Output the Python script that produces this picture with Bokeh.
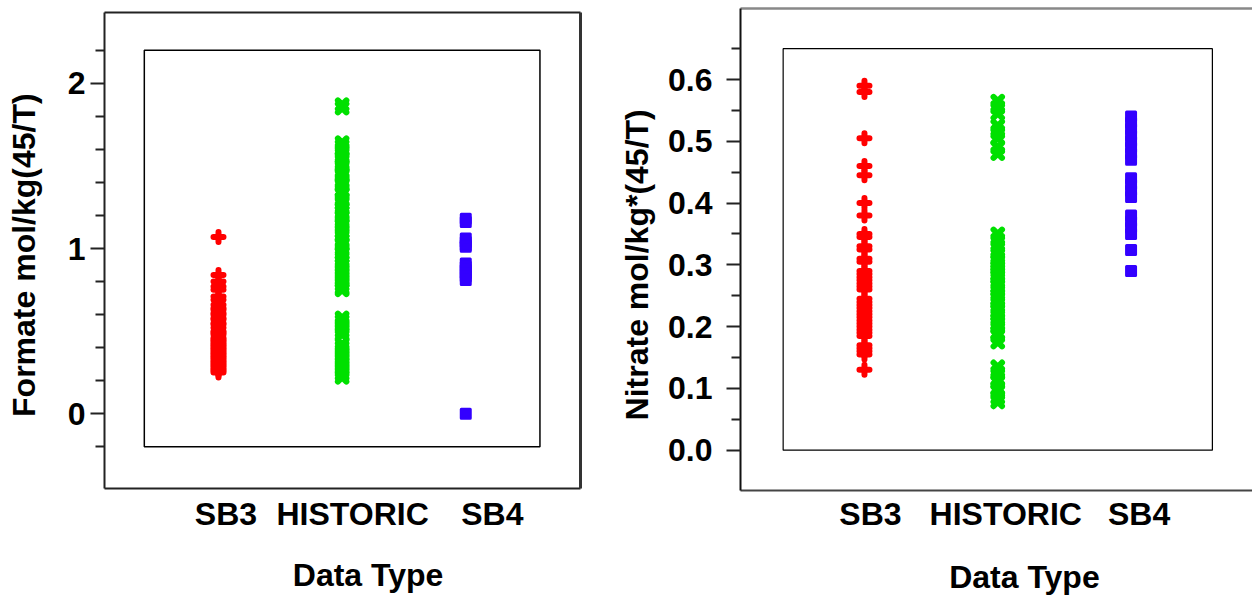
from bokeh.plotting import figure
from bokeh.layouts import row, column
from bokeh.models import LinearAxis, FixedTicker, Range1d, BoxAnnotation, NumeralTickFormatter
from bokeh.embed import file_html
from bokeh.resources import INLINE

# ---------------- data ----------------
categories = ["SB3", "HISTORIC", "SB4"]

formate_sb3 = [1.07, 0.84, 0.80, 0.77, 0.75, 0.71, 0.69, 0.66, 0.64, 0.63, 0.61, 0.60,
               0.58, 0.57, 0.55, 0.54, 0.52, 0.50, 0.49, 0.48, 0.46, 0.45, 0.44, 0.43,
               0.42, 0.41, 0.40, 0.39, 0.38, 0.37, 0.36, 0.35, 0.34, 0.33, 0.32, 0.31,
               0.30, 0.29, 0.28, 0.27, 0.26, 0.25]
formate_historic = [1.87, 1.85, 1.64, 1.62, 1.60, 1.58, 1.55, 1.54, 1.51, 1.50, 1.47, 1.45,
                    1.44, 1.41, 1.39, 1.38, 1.35, 1.33, 1.30, 1.29, 1.27, 1.24, 1.22, 1.20,
                    1.19, 1.16, 1.14, 1.12, 1.10, 1.08, 1.05, 1.03, 1.02, 0.99, 0.97, 0.95,
                    0.92, 0.90, 0.88, 0.86, 0.84, 0.82, 0.80, 0.78, 0.76, 0.75,
                    0.58, 0.56, 0.54, 0.52, 0.50, 0.48,
                    0.42, 0.40, 0.38, 0.36, 0.34, 0.32, 0.30, 0.28, 0.26, 0.24, 0.22]
formate_sb4 = [1.18, 1.16, 1.06, 1.04, 1.02, 1.01, 0.91, 0.89, 0.87, 0.85, 0.83, 0.81, 0.0]

nitrate_sb3 = [0.59, 0.58, 0.505, 0.46, 0.445, 0.40, 0.38, 0.35, 0.345, 0.33, 0.325, 0.31,
               0.305, 0.29, 0.285, 0.28, 0.275, 0.27, 0.265, 0.26, 0.245, 0.24, 0.235, 0.23,
               0.225, 0.22, 0.215, 0.21, 0.205, 0.20, 0.195, 0.19, 0.185, 0.17, 0.165, 0.16,
               0.155, 0.13]
nitrate_historic = [0.565, 0.555, 0.545, 0.525, 0.515, 0.505, 0.49, 0.48,
                    0.35, 0.34, 0.33, 0.32, 0.31, 0.305, 0.30, 0.295, 0.29, 0.285, 0.28,
                    0.27, 0.265, 0.26, 0.25, 0.245, 0.24, 0.23, 0.225, 0.22, 0.21, 0.205,
                    0.20, 0.19, 0.185, 0.175,
                    0.135, 0.125, 0.115, 0.11, 0.10, 0.095, 0.085, 0.078]
nitrate_sb4 = [0.54, 0.53, 0.52, 0.51, 0.50, 0.49, 0.48, 0.47, 0.44, 0.43, 0.42, 0.41,
               0.38, 0.37, 0.36, 0.35, 0.324, 0.29]

formate_major = [0, 1, 2]
formate_minor = [-0.2, 0.2, 0.4, 0.6, 0.8, 1.2, 1.4, 1.6, 1.8, 2.2]
nitrate_major = [0.0, 0.1, 0.2, 0.3, 0.4, 0.5, 0.6]
nitrate_minor = [0.05, 0.15, 0.25, 0.35, 0.45, 0.55, 0.65]

formate_title = "Formate mol/kg(45/T)"
nitrate_title = "Nitrate mol/kg*(45/T)"
x_title = "Data Type"

# ---------------- style ----------------
FONT = "Liberation Sans"
RED, GREEN, BLUE = "#ff0000", "#00e000", "#3300ff"
TXT = "32px"


def text_style(ax, size):
    ax.major_label_text_font = FONT
    ax.major_label_text_font_style = "bold"
    ax.major_label_text_font_size = size
    ax.major_label_text_color = "black"


def blank_axis(color, width):
    ax = LinearAxis(ticker=FixedTicker(ticks=[]))
    ax.axis_line_color = color
    ax.axis_line_width = width
    ax.major_tick_line_color = None
    ax.minor_tick_line_color = None
    ax.major_tick_out = 0
    ax.minor_tick_out = 0
    ax.major_label_standoff = 0
    ax.major_label_text_font_size = "0px"
    return ax


def label_axis(ticks, labels, size, standoff, line_color=None, line_width=1,
               orientation="horizontal"):
    ax = LinearAxis(ticker=FixedTicker(ticks=ticks),
                    major_label_overrides=dict(zip(ticks, labels)))
    ax.axis_line_color = line_color
    ax.axis_line_width = line_width
    ax.major_tick_line_color = None
    ax.minor_tick_line_color = None
    ax.major_tick_out = 0
    ax.major_tick_in = 0
    ax.minor_tick_out = 0
    ax.minor_tick_in = 0
    ax.major_label_standoff = standoff
    ax.major_label_orientation = orientation
    text_style(ax, size)
    return ax


def tick_axis(major, minor, fmt, standoff, color):
    ax = LinearAxis(ticker=FixedTicker(ticks=major, minor_ticks=minor))
    if fmt is not None:
        ax.formatter = fmt
    ax.axis_line_color = color
    ax.axis_line_width = 2
    ax.major_tick_out = 14
    ax.major_tick_in = 0
    ax.minor_tick_out = 9
    ax.minor_tick_in = 0
    ax.major_tick_line_width = 2
    ax.minor_tick_line_width = 2
    ax.major_tick_line_color = "#222222"
    ax.minor_tick_line_color = "#222222"
    ax.major_label_standoff = standoff
    text_style(ax, TXT)
    return ax


def add_points(p, sb3, hist, sb4):
    xs = {c: i + 1 for i, c in enumerate(categories)}
    p.scatter([xs["SB3"]] * len(sb3), sb3, marker="cross", size=10, line_width=6,
              line_color=RED, line_cap="round")
    p.scatter([xs["HISTORIC"]] * len(hist), hist, marker="x", size=12, line_width=6,
              line_color=GREEN, line_cap="round")
    p.scatter([xs["SB4"]] * len(sb4), sb4, marker="square", size=9, line_width=3,
              fill_color=BLUE, line_color=BLUE, line_join="round")


# ---------------- left panel ----------------
p1 = figure(frame_width=476, frame_height=476,
            x_range=Range1d(0.078, 3.928), y_range=Range1d(-0.452, 2.428),
            x_axis_type=None, y_axis_type=None,
            min_border_left=104, min_border_right=20, min_border_top=12, min_border_bottom=100,
            output_backend="svg", toolbar_location=None)
p1.outline_line_color = None
p1.background_fill_color = "white"

p1.add_layout(BoxAnnotation(left=0.40, right=3.60, bottom=-0.2, top=2.2,
                            fill_alpha=0, line_color="black", line_alpha=1,
                            line_width=1.5))
add_points(p1, formate_sb3, formate_historic, formate_sb4)

p1.add_layout(tick_axis(formate_major, formate_minor, None, 5, "#222222"), "left")
p1.add_layout(label_axis([0.96], [formate_title], TXT, 22,
                         orientation="vertical"), "left")
p1.add_layout(label_axis([1.06, 2.085, 3.215], categories, TXT, 7,
                         line_color="#222222", line_width=2), "below")
p1.add_layout(label_axis([2.21], [x_title], TXT, 22), "below")
p1.add_layout(blank_axis("#222222", 2), "above")
p1.add_layout(blank_axis("#333333", 3), "right")

# ---------------- right panel ----------------
p2 = figure(frame_width=512, frame_height=482,
            x_range=Range1d(0.070, 3.911), y_range=Range1d(-0.0653, 0.715),
            x_axis_type=None, y_axis_type=None,
            min_border_left=140, min_border_right=0, min_border_top=8, min_border_bottom=96,
            output_backend="svg", toolbar_location=None)
p2.outline_line_color = None
p2.background_fill_color = "white"

p2.add_layout(BoxAnnotation(left=0.39, right=3.61, bottom=0.0, top=0.65,
                            fill_alpha=0, line_color="black", line_alpha=1,
                            line_width=1.2))
add_points(p2, nitrate_sb3, nitrate_historic, nitrate_sb4)

p2.add_layout(tick_axis(nitrate_major, nitrate_minor, NumeralTickFormatter(format="0.0"),
                        14, "#111111"), "left")
p2.add_layout(label_axis([0.30], [nitrate_title], TXT, 10,
                         orientation="vertical"), "left")
p2.add_layout(label_axis([1.045, 2.06, 3.06], categories, TXT, 5,
                         line_color="#444444", line_width=2), "below")
p2.add_layout(label_axis([2.20], [x_title], TXT, 24), "below")
p2.add_layout(blank_axis("#888888", 2.5), "above")

layout = row(column(p1), column(p2))
open("out.html", "w").write(file_html(layout, INLINE))
